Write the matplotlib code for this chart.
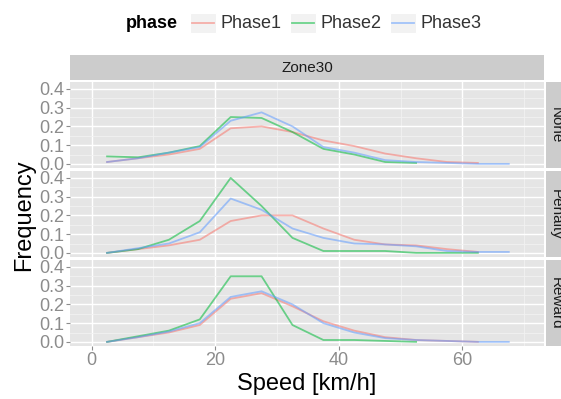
import numpy as np
import matplotlib
matplotlib.use("Agg")
import matplotlib.pyplot as plt
from matplotlib.patches import Rectangle
from matplotlib.lines import Line2D

plt.rcParams['font.family'] = ['Liberation Sans', 'DejaVu Sans']

# speed bin centres (km/h)
speed = [2.5, 7.5, 12.5, 17.5, 22.5, 27.5, 32.5, 37.5, 42.5, 47.5, 52.5, 57.5, 62.5, 67.5]

phases = ['Phase1', 'Phase2', 'Phase3']
colors = ['#F8766D', '#00BA38', '#619CFF']
rows = ['None', 'Penalty', 'Reward']

# frequency per bin (series end where the line ends)
none_p1 = [0.01, 0.03, 0.05, 0.08, 0.19, 0.20, 0.17, 0.125, 0.095, 0.055, 0.03, 0.01, 0.005]
none_p2 = [0.04, 0.035, 0.06, 0.095, 0.25, 0.245, 0.17, 0.08, 0.05, 0.01, 0.005]
none_p3 = [0.01, 0.03, 0.06, 0.09, 0.23, 0.275, 0.20, 0.09, 0.06, 0.02, 0.01, 0.005, 0.0, 0.0]

pen_p1 = [0.0, 0.02, 0.04, 0.07, 0.17, 0.20, 0.20, 0.13, 0.07, 0.045, 0.04, 0.02, 0.005]
pen_p2 = [0.0, 0.02, 0.07, 0.17, 0.40, 0.25, 0.08, 0.01, 0.01, 0.01, 0.0, 0.0, 0.0]
pen_p3 = [0.0, 0.025, 0.05, 0.11, 0.29, 0.23, 0.13, 0.08, 0.05, 0.045, 0.035, 0.01, 0.005, 0.005]

rew_p1 = [0.0, 0.025, 0.05, 0.09, 0.23, 0.26, 0.19, 0.11, 0.06, 0.025, 0.01, 0.005, 0.0]
rew_p2 = [0.0, 0.03, 0.06, 0.12, 0.35, 0.35, 0.09, 0.01, 0.01, 0.005, 0.0]
rew_p3 = [0.0, 0.025, 0.055, 0.10, 0.24, 0.27, 0.20, 0.10, 0.05, 0.02, 0.01, 0.005, 0.0, 0.0]

data = {
    'None': [none_p1, none_p2, none_p3],
    'Penalty': [pen_p1, pen_p2, pen_p3],
    'Reward': [rew_p1, rew_p2, rew_p3],
}

W, H = 561, 399
fig = plt.figure(figsize=(W / 100, H / 100), dpi=100)


def box(x0, y0, x1, y1):
    # pixel box (top-left origin) -> figure fraction rect
    return [x0 / W, 1 - y1 / H, (x1 - x0) / W, (y1 - y0) / H]


panel_bg = '#E5E5E5'
tick_col = '#8C8C8C'
strip_bg = '#CCCCCC'

left, right = 70, 544
axes = []
for i, row in enumerate(rows):
    top = 82 + i * 89
    ax = fig.add_axes(box(left, top, right, top + 86))
    ax.set_facecolor(panel_bg)
    for s in ax.spines.values():
        s.set_visible(False)
    ax.set_xlim(-3.5, 73.2)
    ax.set_ylim(-0.022, 0.437)
    ax.set_xticks([0, 20, 40, 60])
    ax.set_xticks([10, 30, 50, 70], minor=True)
    ax.set_yticks([0.0, 0.1, 0.2, 0.3, 0.4])
    ax.set_yticks([0.05, 0.15, 0.25, 0.35], minor=True)
    ax.grid(which='major', color='white', linewidth=1.0)
    ax.grid(which='minor', color='#F2F2F2', linewidth=0.6)
    ax.set_axisbelow(True)
    ax.tick_params(which='minor', length=0)
    ax.tick_params(which='major', length=3, width=0.8, color=tick_col,
                   labelcolor=tick_col, labelsize=13, pad=1)
    ax.set_yticklabels(['0.0', '0.1', '0.2', '0.3', '0.4'])
    if i < 2:
        ax.tick_params(axis='x', labelbottom=False, length=0)
    for vals, c in zip(data[row], colors):
        ax.plot(speed[:len(vals)], vals, color=c, alpha=0.55, linewidth=1.3)

    # right-hand facet strip
    sax = fig.add_axes(box(546, top, 568, top + 86))
    sax.set_facecolor(strip_bg)
    sax.set_xticks([])
    sax.set_yticks([])
    for s in sax.spines.values():
        s.set_visible(False)
    sax.text(0.45, 0.5, row, rotation=-90, ha='center', va='center',
             fontsize=11, color='#1A1A1A', transform=sax.transAxes)
    axes.append(ax)

# top facet strip
tax = fig.add_axes(box(left, 55, right, 80))
tax.set_facecolor(strip_bg)
tax.set_xticks([])
tax.set_yticks([])
for s in tax.spines.values():
    s.set_visible(False)
tax.text(0.5, 0.5, 'Zone30', ha='center', va='center', fontsize=11,
         color='#1A1A1A', transform=tax.transAxes)

# axis titles
fig.text(307 / W, 1 - 384 / H, 'Speed [km/h]', ha='center', va='center', fontsize=17)
fig.text(24 / W, 1 - 215 / H, 'Frequency', ha='center', va='center',
         rotation=90, fontsize=17)

# legend on top
ly = 1 - 23 / H
fig.text(126 / W, ly, 'phase', ha='left', va='center', fontsize=13, fontweight='bold')
key_x = [190, 290, 390]
for kx, name, c in zip(key_x, phases, colors):
    fig.patches.append(Rectangle((kx / W, 1 - 33 / H), 26 / W, 20 / H,
                                 transform=fig.transFigure, facecolor='#F2F2F2',
                                 edgecolor='white', linewidth=0.8))
    fig.lines.append(Line2D([(kx + 2) / W, (kx + 24) / W], [ly, ly],
                            transform=fig.transFigure, color=c, alpha=0.55,
                            linewidth=1.3))
    fig.text((kx + 31) / W, ly, name, ha='left', va='center', fontsize=13,
             color='#333333')

fig.savefig('out.png', dpi=100)
